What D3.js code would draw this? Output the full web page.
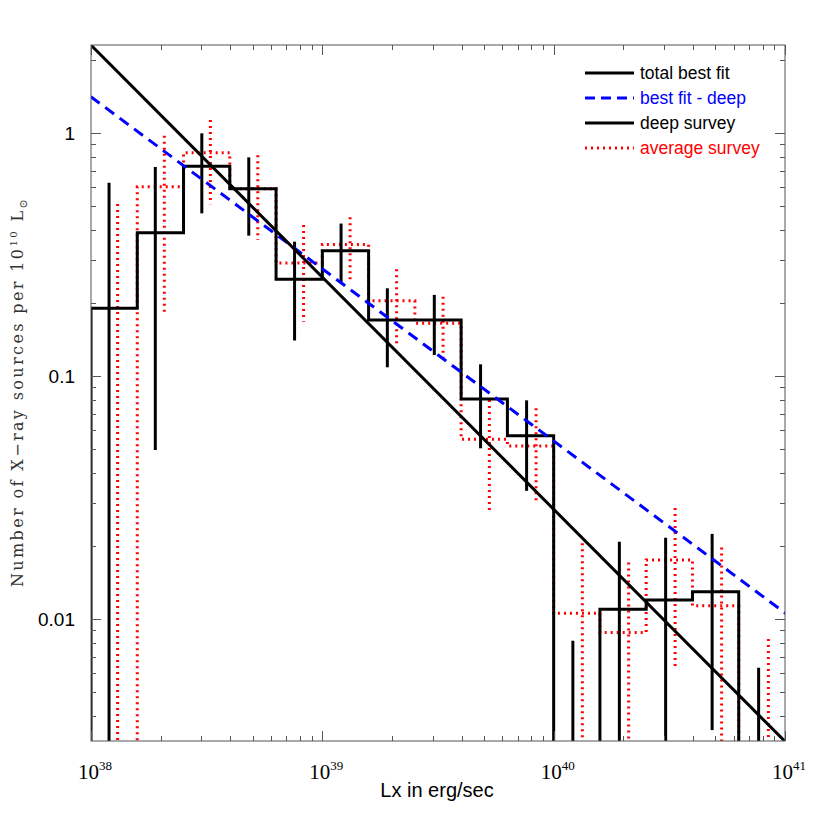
<!DOCTYPE html>
<html>
<head>
<meta charset="utf-8">
<script src="https://cdn.jsdelivr.net/npm/d3@7"></script>
<style>
  body { margin: 0; background: #fff; }
  svg { display: block; }
</style>
</head>
<body>
<svg id="chart" width="830" height="830"></svg>
<script>
// log10(Lx) bin edges, 0.2 dex bins
var binEdges = [38.0, 38.2, 38.4, 38.6, 38.8, 39.0, 39.2, 39.4, 39.6, 39.8,
                40.0, 40.2, 40.4, 40.6, 40.8, 41.0];

// deep survey (black histogram)
var deepVals = [0.190, 0.389, 0.729, 0.590, 0.250, 0.328, 0.170, 0.170, 0.0804, 0.0568,
                0, 0.01096, 0.01197, 0.01295, 0];
var deepErrX = [38.078, 38.278, 38.479, 38.682, 38.880, 39.081, 39.281, 39.484, 39.684, 39.883,
                40.083, 40.284, 40.484, 40.685, 40.886];
var deepErrHi = [0.624, 0.725, 0.997, 0.794, 0.357, 0.424, 0.2296, 0.2156, 0.1117, 0.0794,
                 0.00814, 0.0208, 0.0216, 0.0224, 0.0063];
var deepErrLo = [0, 0.0496, 0.467, 0.378, 0.140, 0.241, 0.1086, 0.122, 0.0504, 0.0337,
                 0, 0, 0, 0.00349, 0];

// average survey (red dotted histogram)
var avgVals = [0, 0.601, 0.830, 0.590, 0.292, 0.348, 0.204, 0.165, 0.0549, 0.0515,
               0.01055, 0.00879, 0.0175, 0.01134, 0];
var avgErrX = [38.115, 38.317, 38.516, 38.721, 38.919, 39.120, 39.321, 39.522, 39.722, 39.924,
               40.124, 40.324, 40.525, 40.726, 40.928];
var avgErrHi = [0.510, 0.975, 1.131, 0.809, 0.418, 0.450, 0.275, 0.212, 0.0796, 0.0736,
                0.0205, 0.0171, 0.0286, 0.0197, 0.00828];
var avgErrLo = [0, 0.184, 0.509, 0.363, 0.1673, 0.242, 0.132, 0.1135, 0.0281, 0.0297,
                0, 0, 0.00627, 0, 0];

// power law fits: N = norm * (Lx / 1e39)^(-slope)
var fitTotal = {norm: 0.255, slope: 0.955};
var fitDeep = {norm: 0.276, slope: 0.708};

var xTickExps = [38, 39, 40, 41];
var yTickVals = [1, 0.1, 0.01];
var yTickLabels = ["1", "0.1", "0.01"];

var legendItems = [
  {label: "total best fit", color: "#000", dash: null, text: "#000"},
  {label: "best fit - deep", color: "#0000ff", dash: "10,6", text: "#0000ff"},
  {label: "deep survey", color: "#000", dash: null, text: "#000"},
  {label: "average survey", color: "#ff0000", dash: "2,4", text: "#ff0000"}
];

var svg = d3.select("#chart");
var pL = 91, pR = 785, pT = 45, pB = 741;

var x = d3.scaleLog().domain([1e38, 1e41]).range([pL, pR]);
var y = d3.scaleLog().domain([Math.pow(10, -608 / 243), Math.pow(10, 88 / 243)]).range([pB, pT]);

var floorVal = 1e-5;
function yv(v) { return y(v > 0 ? v : floorVal); }
function L(e) { return Math.pow(10, e); }

svg.append("defs").append("clipPath").attr("id", "plotclip")
  .append("rect").attr("x", pL).attr("y", pT)
  .attr("width", pR - pL).attr("height", pB - pT);

var plot = svg.append("g").attr("clip-path", "url(#plotclip)");

function histPath(vals) {
  var p = d3.path();
  p.moveTo(x(L(binEdges[0])), yv(0));
  vals.forEach(function(v, i) {
    p.lineTo(x(L(binEdges[i])), yv(v));
    p.lineTo(x(L(binEdges[i + 1])), yv(v));
  });
  p.lineTo(x(L(binEdges[binEdges.length - 1])), yv(0));
  return p.toString();
}

// fit lines
function fitLine(f) {
  var xs = [1e37, 1e42];
  return d3.line()
    .x(function(d) { return x(d); })
    .y(function(d) { return y(f.norm * Math.pow(d / 1e39, -f.slope)); })(xs);
}

// red dotted histogram and error bars
plot.append("path")
  .attr("d", histPath(avgVals))
  .attr("fill", "none").attr("stroke", "#ff0000").attr("stroke-width", 3)
  .attr("stroke-dasharray", "2,4");
plot.append("g").selectAll("line").data(avgErrX).enter().append("line")
  .attr("x1", function(d) { return x(L(d)); })
  .attr("x2", function(d) { return x(L(d)); })
  .attr("y1", function(d, i) { return yv(avgErrHi[i]); })
  .attr("y2", function(d, i) { return yv(avgErrLo[i]); })
  .attr("stroke", "#ff0000").attr("stroke-width", 3).attr("stroke-dasharray", "2,4");

// black histogram and error bars
plot.append("path")
  .attr("d", histPath(deepVals))
  .attr("fill", "none").attr("stroke", "#000").attr("stroke-width", 3);
plot.append("g").selectAll("line").data(deepErrX).enter().append("line")
  .attr("x1", function(d) { return x(L(d)); })
  .attr("x2", function(d) { return x(L(d)); })
  .attr("y1", function(d, i) { return yv(deepErrHi[i]); })
  .attr("y2", function(d, i) { return yv(deepErrLo[i]); })
  .attr("stroke", "#000").attr("stroke-width", 3);

plot.append("path").attr("d", fitLine(fitDeep))
  .attr("fill", "none").attr("stroke", "#0000ff").attr("stroke-width", 3)
  .attr("stroke-dasharray", "11,7");
plot.append("path").attr("d", fitLine(fitTotal))
  .attr("fill", "none").attr("stroke", "#000").attr("stroke-width", 3);

// frame
var axisColor = "#555";
svg.append("rect").attr("x", pL).attr("y", pT)
  .attr("width", pR - pL).attr("height", pB - pT)
  .attr("fill", "none").attr("stroke", axisColor).attr("stroke-width", 1);

// ticks inside on all sides
var xMajor = xTickExps.map(L);
var xMinor = [];
for (var e = 38; e < 41; e++) for (var m = 2; m < 10; m++) xMinor.push(m * L(e));
var yMinor = [];
for (var e2 = -3; e2 < 1; e2++) for (var m2 = 2; m2 < 10; m2++) {
  var v = m2 * L(e2);
  if (v > y.domain()[0] && v < y.domain()[1]) yMinor.push(v);
}

var tk = svg.append("g").attr("stroke", axisColor).attr("stroke-width", 1);
function xTicks(vals, len) {
  vals.forEach(function(d) {
    var px = Math.round(x(d)) + 0.5;
    tk.append("line").attr("x1", px).attr("x2", px).attr("y1", pB).attr("y2", pB - len);
    tk.append("line").attr("x1", px).attr("x2", px).attr("y1", pT).attr("y2", pT + len);
  });
}
function yTicks(vals, len) {
  vals.forEach(function(d) {
    var py = Math.round(y(d)) + 0.5;
    tk.append("line").attr("y1", py).attr("y2", py).attr("x1", pL).attr("x2", pL + len);
    tk.append("line").attr("y1", py).attr("y2", py).attr("x1", pR).attr("x2", pR - len);
  });
}
xTicks(xMajor, 10); xTicks(xMinor, 5);
yTicks(yTickVals, 10); yTicks(yMinor, 5);

// x tick labels 10^n
var xl = svg.append("g").attr("font-family", "'Liberation Serif', 'Times New Roman', serif");
xTickExps.forEach(function(ex) {
  var t = xl.append("text").attr("x", x(L(ex)) + 4).attr("y", 779)
    .attr("text-anchor", "middle").attr("font-size", 21).attr("fill", "#000");
  t.append("tspan").text("10");
  t.append("tspan").attr("dy", -9).attr("font-size", 13).text(ex);
});

// y tick labels
svg.append("g").selectAll("text").data(yTickVals).enter().append("text")
  .attr("x", 75).attr("y", function(d) { return y(d) + 7; })
  .attr("text-anchor", "end")
  .attr("font-family", "'Liberation Sans', Arial, sans-serif")
  .attr("font-size", 19).attr("fill", "#000")
  .text(function(d, i) { return yTickLabels[i]; });

// axis titles
svg.append("text").attr("x", 437).attr("y", 797)
  .attr("text-anchor", "middle")
  .attr("font-family", "'Liberation Sans', Arial, sans-serif")
  .attr("font-size", 20).attr("fill", "#000")
  .text("Lx in erg/sec");

var yt = svg.append("text")
  .attr("transform", "translate(23,392) rotate(-90)")
  .attr("text-anchor", "middle")
  .attr("font-family", "'DejaVu Serif', serif")
  .attr("font-size", 16).attr("fill", "#333");
yt.append("tspan").text("Number of X\u2212ray sources per 10");
yt.append("tspan").attr("dy", -6).attr("font-size", 10).text("10");
yt.append("tspan").attr("dy", 6).text("\u00a0L");
yt.append("tspan").attr("dy", 4).attr("font-size", 11).text("\u2299");
// stretch to the reference length
var ytLen = yt.node().getComputedTextLength();
var ytChars = yt.text().length;
yt.attr("letter-spacing", Math.max(0, (390 - ytLen) / ytChars));

// legend
var lg = svg.append("g");
legendItems.forEach(function(d, i) {
  var cy = 73 + i * 25;
  lg.append("line").attr("x1", 585).attr("x2", 634).attr("y1", cy).attr("y2", cy)
    .attr("stroke", d.color).attr("stroke-width", 3)
    .attr("stroke-dasharray", d.dash);
  lg.append("text").attr("x", 640).attr("y", cy + 6)
    .attr("font-family", "'Liberation Sans', Arial, sans-serif")
    .attr("font-size", 17.5).attr("fill", d.text)
    .text(d.label);
});
</script>
</body>
</html>
